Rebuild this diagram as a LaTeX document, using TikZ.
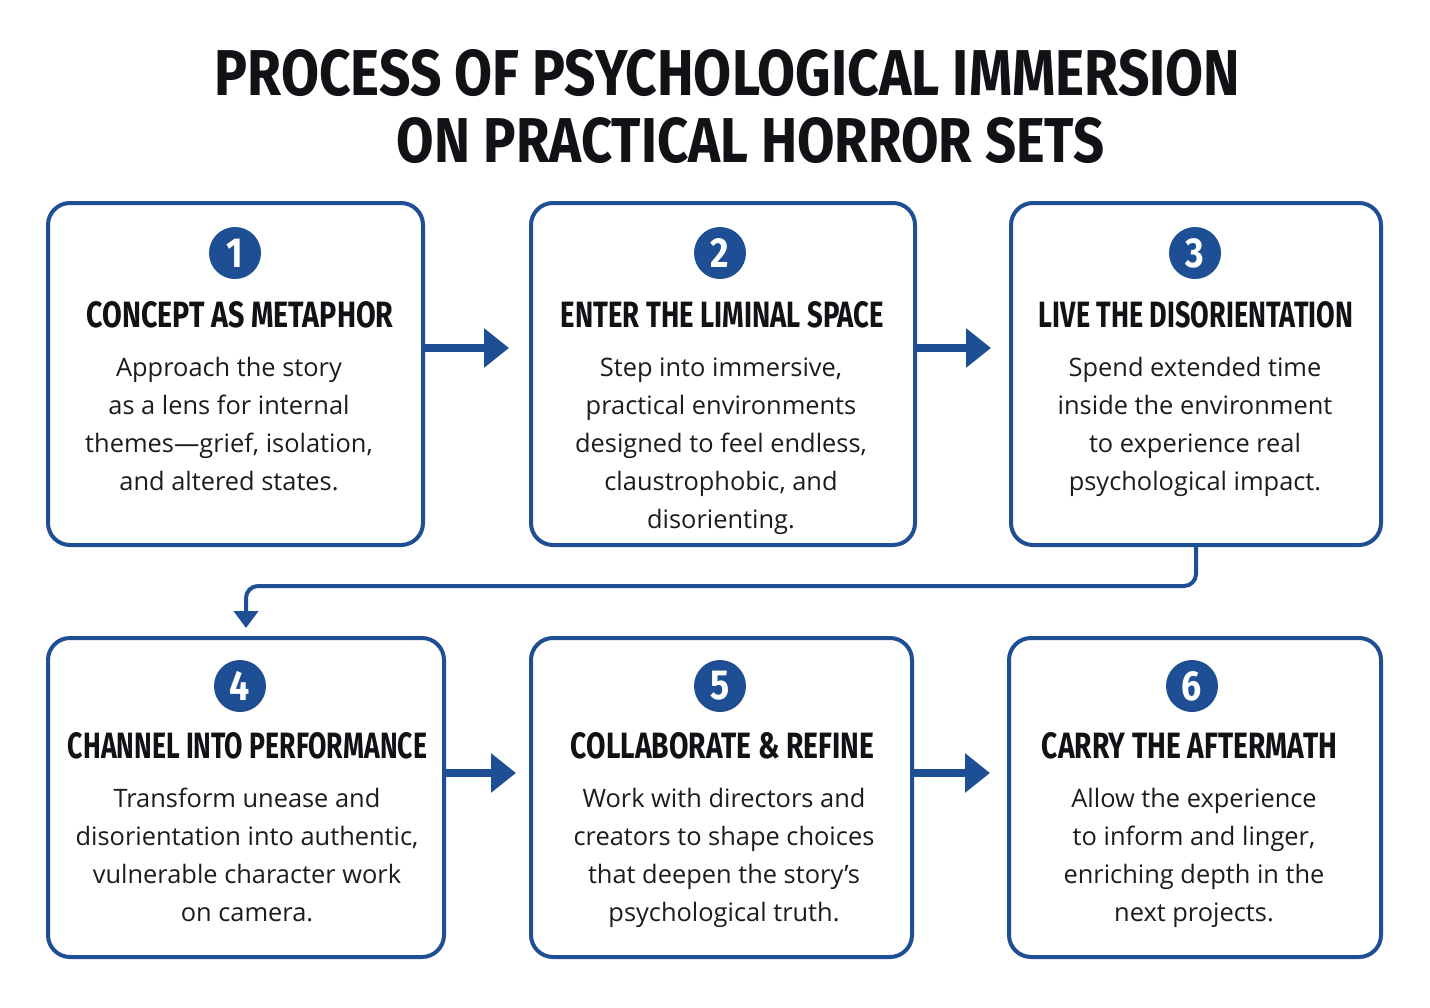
\documentclass[tikz,border=0pt]{standalone}
\usepackage{fontspec}
\usepackage{graphicx}
\setmainfont{Open Sans}
\newfontfamily\headfont{Fira Sans}
\usetikzlibrary{arrows.meta}
\definecolor{pblue}{RGB}{30,78,148}
\definecolor{ink}{RGB}{17,17,22}
\definecolor{bodyink}{RGB}{28,28,30}
\newcommand{\hdtext}[2]{\resizebox{#1}{13pt}{\headfont\bfseries #2}}
\newcommand{\bodytext}[1]{\fontsize{12.7}{19}\selectfont\setlength{\tabcolsep}{0pt}\begin{tabular}[t]{c}#1\end{tabular}}
\tikzset{
  stepbox/.style={draw=pblue, line width=2pt, rounded corners=11pt, fill=white, inner sep=0pt},
  numcircle/.style={circle, fill=pblue, minimum size=26pt, inner sep=0pt, text=white, font=\headfont\bfseries\fontsize{21}{21}\selectfont},
  headline/.style={inner sep=0pt, text=ink},
  bodyline/.style={inner sep=0pt, anchor=base, text=bodyink},
  titleline/.style={inner sep=0pt, text=ink},
  bigarrow/.style={draw=pblue, line width=4pt, -{Triangle[length=12.5pt, width=19pt]}},
  linkarrow/.style={draw=pblue, line width=2pt, rounded corners=6pt, -{Triangle[length=8.5pt, width=12pt]}}
}
\begin{document}
\begin{tikzpicture}[x=0.5pt,y=-0.5pt]
\useasboundingbox (0,0) rectangle (1430,1007);
\fill[white] (0,0) rectangle (1430,1007);

% title
\node[titleline] (t1) at (727.5,73) {\resizebox{512.5pt}{23pt}{\headfont\bfseries PROCESS OF PSYCHOLOGICAL IMMERSION}};
\node[titleline] (t2) at (750.5,140.5) {\resizebox{353.5pt}{22.5pt}{\headfont\bfseries ON PRACTICAL HORROR SETS}};

% boxes
\node[stepbox, minimum width=187.5pt, minimum height=171pt] (b1) at (235.5,374) {};
\node[stepbox, minimum width=192pt, minimum height=171pt] (b2) at (723,374) {};
\node[stepbox, minimum width=185pt, minimum height=171pt] (b3) at (1196,374) {};
\node[stepbox, minimum width=198pt, minimum height=159.5pt] (b4) at (246,797.5) {};
\node[stepbox, minimum width=190.5pt, minimum height=159.5pt] (b5) at (721.5,797.5) {};
\node[stepbox, minimum width=186pt, minimum height=159.5pt] (b6) at (1195,797.5) {};

% number circles
\node[numcircle] (n1) at (235,253) {\scalebox{0.85}[1]{1}};
\node[numcircle] (n2) at (720,253) {\scalebox{0.85}[1]{2}};
\node[numcircle] (n3) at (1195,253) {\scalebox{0.85}[1]{3}};
\node[numcircle] (n4) at (240,686) {\scalebox{0.85}[1]{4}};
\node[numcircle] (n5) at (720,686) {\scalebox{0.85}[1]{5}};
\node[numcircle] (n6) at (1192,686) {\scalebox{0.85}[1]{6}};

% headings
\node[headline] (h1) at (240,315) {\hdtext{153.5pt}{CONCEPT AS METAPHOR}};
\node[headline] (h2) at (722.5,315) {\hdtext{161.5pt}{ENTER THE LIMINAL SPACE}};
\node[headline] (h3) at (1196,315) {\hdtext{157pt}{LIVE THE DISORIENTATION}};
\node[headline] (h4) at (247.5,746) {\hdtext{179.5pt}{CHANNEL INTO PERFORMANCE}};
\node[headline] (h5) at (722.5,746) {\hdtext{151.5pt}{COLLABORATE \& REFINE}};
\node[headline] (h6) at (1189.5,746) {\hdtext{147.5pt}{CARRY THE AFTERMATH}};

% body texts
\node[bodyline] (d1) at (229,376) {\bodytext{Approach the story\\ as a lens for internal\\ themes—grief, isolation,\\ and altered states.}};
\node[bodyline] (d2) at (721,376) {\bodytext{Step into immersive,\\ practical environments\\ designed to feel endless,\\ claustrophobic, and\\ disorienting.}};
\node[bodyline] (d3) at (1195,376) {\bodytext{Spend extended time\\ inside the environment\\ to experience real\\ psychological impact.}};
\node[bodyline] (d4) at (247,807) {\bodytext{Transform unease and\\ disorientation into authentic,\\ vulnerable character work\\ on camera.}};
\node[bodyline] (d5) at (724,807) {\bodytext{Work with directors and\\ creators to shape choices\\ that deepen the story’s\\ psychological truth.}};
\node[bodyline] (d6) at (1194,807) {\bodytext{Allow the experience\\ to inform and linger,\\ enriching depth in the\\ next projects.}};

% connectors
\draw[bigarrow, shorten >=10pt] ([yshift=13pt]b1.east) -- ([yshift=13pt]b2.west);
\draw[bigarrow, shorten >=9pt] ([yshift=13pt]b2.east) -- ([yshift=13pt]b3.west);
\draw[bigarrow, shorten >=6.5pt] ([yshift=12.25pt]b4.east) -- ([yshift=12.25pt]b5.west);
\draw[bigarrow, shorten >=8.5pt] ([yshift=12.25pt]b5.east) -- ([yshift=12.25pt]b6.west);
\draw[linkarrow, shorten >=4pt] (b3.south) -- ++(0,39) -| (b4.north);
\end{tikzpicture}
\end{document}
